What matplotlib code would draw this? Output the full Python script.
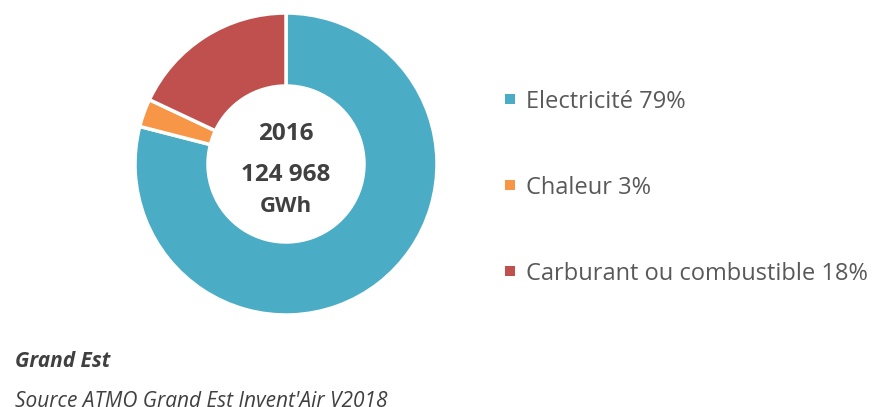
import matplotlib.pyplot as plt
from matplotlib.patches import Rectangle

# Consommation d'energie finale par vecteur - Grand Est 2016
vecteurs = ['Electricité', 'Chaleur', 'Carburant ou combustible']
parts = [79, 3, 18]
couleurs = ['#4BACC6', '#F79646', '#C0504D']
annee = '2016'
total = '124 968'
unite = 'GWh'

plt.rcParams['font.family'] = ['Open Sans', 'DejaVu Sans']

W, H = 895, 407
fig = plt.figure(figsize=(W / 100, H / 100), dpi=100)
ax = fig.add_axes([0, 0, 1, 1])

# ── Anneau (axe y inverse : sens horaire visuel = counterclock) ───────────────
ax.pie(parts, colors=couleurs, startangle=-90, counterclock=True,
       center=(286, 164), radius=151, frame=True,
       wedgeprops=dict(width=73, edgecolor='white', linewidth=2.5))
ax.set_xlim(0, W)
ax.set_ylim(H, 0)
ax.set_aspect('equal')
ax.axis('off')

txt = dict(ha='center', va='baseline', fontweight='bold', color='#404040')
ax.text(286, 140, annee, fontsize=17.5, **txt)
ax.text(286, 181, total, fontsize=17.5, **txt)
ax.text(286, 212, unite, fontsize=16, **txt)

# ── Legende ───────────────────────────────────────────────────────────────────
y_lignes = [108, 194, 280]
for y, v, p, c in zip(y_lignes, vecteurs, parts, couleurs):
    ax.add_patch(Rectangle((505, y - 14), 10, 10, facecolor=c, edgecolor='none'))
    ax.text(526, y, f'{v} {p}%', fontsize=17, color='#595959',
            ha='left', va='baseline')

# ── Source ────────────────────────────────────────────────────────────────────
ax.text(15, 367, 'Grand Est', fontsize=15, fontweight='bold',
        style='italic', color='#404040', va='baseline')
ax.text(15, 407, "Source ATMO Grand Est Invent'Air V2018",
        fontsize=15, style='italic', color='#404040', va='baseline')

fig.savefig('out.png', dpi=100)
